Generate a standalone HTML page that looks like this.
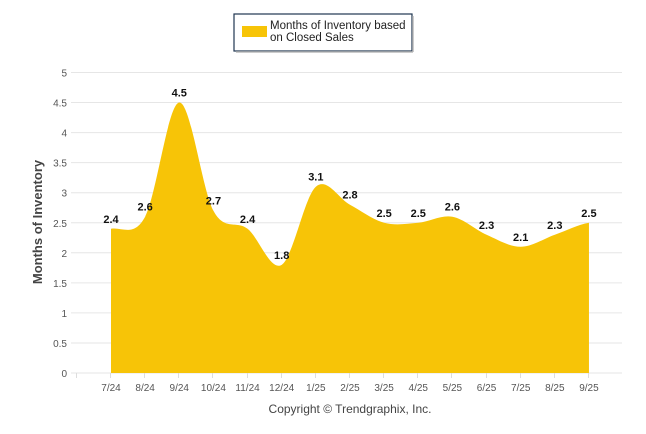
<!DOCTYPE html>
<html><head><meta charset="utf-8"><style>
html,body{margin:0;padding:0;background:#fff;}
svg{display:block;font-family:"Liberation Sans",Arial,sans-serif;}
</style></head><body>
<svg id="c" width="646" height="434" xmlns="http://www.w3.org/2000/svg">
<rect x="234" y="14" width="178" height="37" fill="#fff" stroke="#1f3550" stroke-width="1.2"/>
<line x1="236" y1="52" x2="413" y2="52" stroke="#bbb" stroke-width="1.5"/>
<line x1="413" y1="16" x2="413" y2="52" stroke="#bbb" stroke-width="1.5"/>
<rect x="242" y="26" width="25" height="11" fill="#f7c407"/>
<text x="270" y="29" font-size="11.5" fill="#222">Months of Inventory based</text>
<text x="270" y="41" font-size="11.5" fill="#222">on Closed Sales</text>
<g id="grid"></g>
<path id="area" fill="#f7c407"/>
<g id="lbl"></g>
<text transform="translate(42,222) rotate(-90)" text-anchor="middle" font-size="13" font-weight="bold" fill="#444">Months of Inventory</text>
<text x="350" y="413" text-anchor="middle" font-size="12" fill="#444">Copyright © Trendgraphix, Inc.</text>
</svg>
<script>
var ns="http://www.w3.org/2000/svg";
function el(t,a,p,txt){var e=document.createElementNS(ns,t);for(var k in a)e.setAttribute(k,a[k]);if(txt!=null)e.textContent=txt;document.getElementById(p).appendChild(e);}
var y0=373,u=60.1;
for(var i=0;i<=10;i++){var v=i/2,y=y0-v*u;
el("line",{x1:71,x2:622,y1:y,y2:y,stroke:"#e6e6e6","stroke-width":1},"grid");
el("text",{x:67,y:y+4,"text-anchor":"end","font-size":"10",fill:"#555"},"grid",String(v));}
var labs=["7/24","8/24","9/24","10/24","11/24","12/24","1/25","2/25","3/25","4/25","5/25","6/25","7/25","8/25","9/25"];
var vals=[2.4,2.6,4.5,2.7,2.4,1.8,3.1,2.8,2.5,2.5,2.6,2.3,2.1,2.3,2.5];
var x0=111,dx=34.14;
for(var i=0;i<=15;i++){var x=Math.round(x0+(i-1)*dx)-0.5;el("line",{x1:x,x2:x,y1:y0,y2:y0+5,stroke:"#ddd"},"grid");}
var P=vals.map(function(v,i){return [x0+i*dx,y0-v*u];});
var d="M"+P[0][0]+","+y0+" L"+P[0][0]+","+P[0][1];
for(var i=0;i<P.length-1;i++){var p0=P[Math.max(0,i-1)],p1=P[i],p2=P[i+1],p3=P[Math.min(P.length-1,i+2)];
var c1=[p1[0]+dx/3,p1[1]+(p2[1]-p0[1])/6];
var c2=[p2[0]-dx/3,p2[1]-(p3[1]-p1[1])/6];
d+=" C"+c1[0]+","+c1[1]+" "+c2[0]+","+c2[1]+" "+p2[0]+","+p2[1];}
d+=" L"+P[P.length-1][0]+","+y0+" Z";
document.getElementById("area").setAttribute("d",d);
P.forEach(function(p,i){
el("text",{x:p[0],y:p[1]-6,"text-anchor":"middle","font-size":"11","font-weight":"bold",fill:"#111"},"lbl",String(vals[i]));
el("text",{x:p[0],y:391,"text-anchor":"middle","font-size":"10",fill:"#555"},"lbl",labs[i]);});
</script>
</body></html>
